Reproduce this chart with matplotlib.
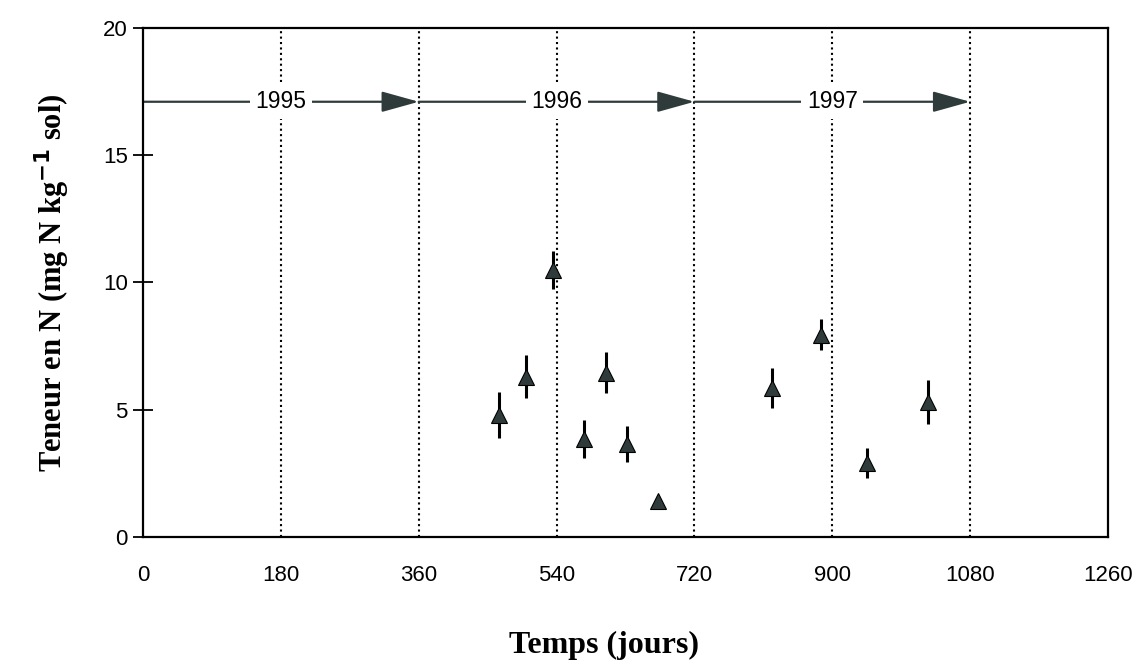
import matplotlib
matplotlib.use("Agg")
import matplotlib.pyplot as plt
import numpy as np

# mesures de N (jours depuis le debut 1995)
jours = [465, 500, 535, 576, 604, 632, 672, 821, 885, 945, 1025]
teneur = [4.8, 6.3, 10.5, 3.85, 6.45, 3.65, 1.4, 5.85, 7.95, 2.9, 5.3]
erreur = [0.9, 0.85, 0.75, 0.75, 0.8, 0.7, 0.0, 0.8, 0.6, 0.6, 0.85]

annees = ["1995", "1996", "1997"]
debut_annee = [0, 360, 720]
separateurs = [180, 360, 540, 720, 900, 1080]
xticks = [0, 180, 360, 540, 720, 900, 1080, 1260]
yticks = [0, 5, 10, 15, 20]
y_fleche = 17.1

couleur = "#2f3b3b"

fig = plt.figure(figsize=(11.38, 6.62), dpi=100)
ax = fig.add_axes([0.1257, 0.1888, 0.8479, 0.769])

# lignes pointillees
for s in separateurs:
    ax.axvline(s, color="black", lw=1.5, ls=(0, (1, 1.6)), zorder=1)

# fleches des annees
for a, d in zip(annees, debut_annee):
    ax.annotate("", xy=(d + 360, y_fleche), xytext=(d, y_fleche),
                arrowprops=dict(arrowstyle="-|>,head_length=1.15,head_width=0.32",
                                mutation_scale=20, color=couleur, lw=1.6,
                                shrinkA=0, shrinkB=0), zorder=2)
    ax.text(d + 180, y_fleche, a, ha="center", va="center", fontsize=16.5,
            family="Liberation Sans", zorder=3,
            bbox=dict(facecolor="white", edgecolor="none", pad=4))

ax.errorbar(jours, teneur, yerr=erreur, fmt="^", ms=12, color="black",
            mfc=couleur, mec="black", mew=0.8, elinewidth=2.2, capsize=0, zorder=4)

ax.set_xlim(0, 1260)
ax.set_ylim(0, 20)
ax.set_xticks(xticks)
ax.set_yticks(yticks)
for lab in ax.get_xticklabels() + ax.get_yticklabels():
    lab.set_family("Liberation Sans")
    lab.set_fontsize(16)
ax.tick_params(axis="x", length=0, pad=20)
ax.tick_params(axis="y", direction="inout", length=14, width=1.3, pad=4)
for sp in ax.spines.values():
    sp.set_linewidth(1.6)

ax.set_xlabel("Temps (jours)", family="Liberation Serif", fontweight="bold",
              fontsize=23, labelpad=24)
ax.xaxis.set_label_coords(0.478, -0.185)
ax.set_ylabel("Teneur en N (mg N kg$^{\\mathbf{-1}}$ sol)", family="Liberation Serif",
              fontweight="bold", fontsize=22, labelpad=22)

fig.savefig("out.png", dpi=100)
